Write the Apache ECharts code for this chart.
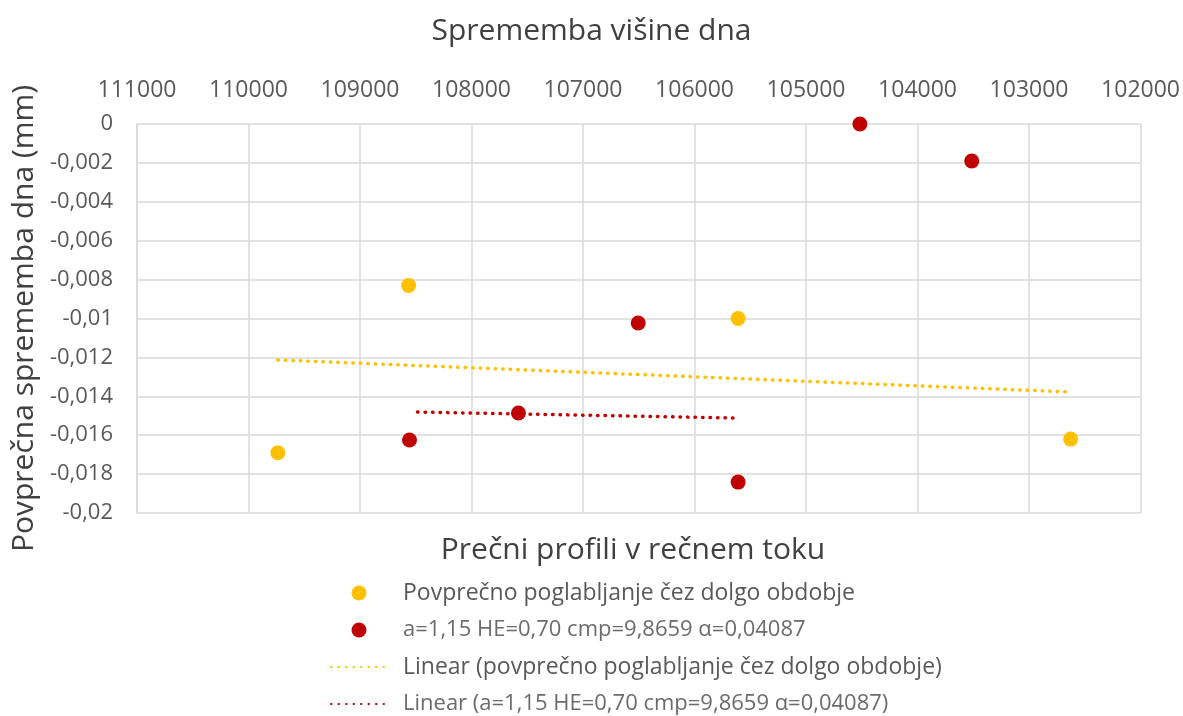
<!DOCTYPE html>
<html>
<head>
<meta charset="utf-8">
<script src="https://cdn.jsdelivr.net/npm/echarts@6/dist/echarts.min.js"></script>
<style>
  html, body { margin: 0; padding: 0; background: #ffffff; }
  #chart { width: 1183px; height: 716px; }
</style>
</head>
<body>
<div id="chart"></div>
<script>
// Cross-section stations (x) and mean bed change in mm (y)
const longTermX = [109737, 108564, 105609, 102627];
const longTermY = [-0.0169, -0.0083, -0.0100, -0.0162];

const modelX = [104517, 103514, 106505, 107579, 108556, 105609];
const modelY = [0.0000, -0.0019, -0.01023, -0.01486, -0.01625, -0.01841];

// Linear trend lines, start and end points
const longTermTrendX = [109737, 102627];
const longTermTrendY = [-0.01213, -0.01378];
const modelTrendX = [108484, 105600];
const modelTrendY = [-0.01481, -0.01512];

const seriesNames = [
  'Povprečno poglabljanje čez dolgo obdobje',
  'a=1,15 HE=0,70 cmp=9,8659 α=0,04087',
  'Linear (povprečno poglabljanje čez dolgo obdobje)',
  'Linear (a=1,15 HE=0,70 cmp=9,8659 α=0,04087)'
];

const YELLOW = '#FFC000';
const RED = '#C00000';
const FONT = '"Open Sans", sans-serif';
const DOTTED = [0.5, 7];

const pairs = (xs, ys) => xs.map((x, i) => [x, ys[i]]);

const chart = echarts.init(document.getElementById('chart'));
chart.setOption({
  backgroundColor: '#ffffff',
  animation: false,
  title: [
    {
      text: 'Sprememba višine dna',
      left: 'center',
      top: 11,
      textStyle: { fontFamily: FONT, fontSize: 30, fontWeight: 'normal', color: '#404040' }
    },
    {
      text: 'Prečni profili v rečnem toku',
      left: 628,
      textAlign: 'center',
      top: 530,
      textStyle: { fontFamily: FONT, fontSize: 30, fontWeight: 'normal', color: '#404040' }
    }
  ],
  grid: { left: 137, right: 41, top: 124, bottom: 203 },
  xAxis: {
    type: 'value',
    position: 'top',
    inverse: true,
    min: 102000,
    max: 111000,
    interval: 1000,
    axisLine: { show: false },
    axisTick: { show: false },
    axisLabel: {
      margin: 22,
      fontFamily: FONT,
      fontSize: 23,
      color: '#595959',
      formatter: v => String(v)
    },
    splitLine: { show: true, lineStyle: { color: '#d9d9d9', width: 1.5 } }
  },
  yAxis: {
    type: 'value',
    min: -0.02,
    max: 0,
    interval: 0.002,
    name: 'Povprečna sprememba dna (mm)',
    nameLocation: 'middle',
    nameGap: 98,
    nameRotate: 90,
    nameTextStyle: { fontFamily: FONT, fontSize: 30, color: '#404040' },
    axisLine: { show: true, lineStyle: { color: '#d9d9d9', width: 1.5 } },
    axisTick: { show: false },
    axisLabel: {
      margin: 24,
      fontFamily: FONT,
      fontSize: 22,
      color: '#595959',
      formatter: v => String(Number(v.toFixed(4))).replace('.', ',')
    },
    splitLine: { show: true, lineStyle: { color: '#d9d9d9', width: 1.5 } }
  },
  legend: {
    orient: 'vertical',
    left: 330,
    top: 581,
    padding: 0,
    height: 140,
    itemWidth: 56,
    itemHeight: 15,
    itemGap: 13,
    data: [
      { name: seriesNames[0], textStyle: { fontSize: 23, color: '#595959' } },
      { name: seriesNames[1], textStyle: { fontSize: 22, color: '#6b6b6b' } },
      { name: seriesNames[2], itemStyle: { opacity: 0 }, textStyle: { fontSize: 23, color: '#595959' } },
      { name: seriesNames[3], itemStyle: { opacity: 0 }, textStyle: { fontSize: 22, color: '#6b6b6b' } }
    ],
    textStyle: { fontFamily: FONT, fontSize: 22, color: '#595959', lineHeight: 24, padding: [0, 0, 0, 11] }
  },
  series: [
    {
      name: seriesNames[0],
      type: 'scatter',
      symbol: 'circle',
      symbolSize: 15,
      itemStyle: { color: YELLOW, opacity: 1 },
      data: pairs(longTermX, longTermY),
      z: 5
    },
    {
      name: seriesNames[1],
      type: 'scatter',
      symbol: 'circle',
      symbolSize: 15,
      itemStyle: { color: RED, opacity: 1 },
      data: pairs(modelX, modelY),
      z: 5
    },
    {
      name: seriesNames[2],
      type: 'line',
      symbol: 'none',
      lineStyle: { color: YELLOW, width: 3.5, type: DOTTED, cap: 'round' },
      itemStyle: { color: YELLOW },
      data: pairs(longTermTrendX, longTermTrendY),
      z: 3
    },
    {
      name: seriesNames[3],
      type: 'line',
      symbol: 'none',
      lineStyle: { color: RED, width: 3.5, type: DOTTED, cap: 'round' },
      itemStyle: { color: RED },
      data: pairs(modelTrendX, modelTrendY),
      z: 3
    }
  ]
});
</script>
</body>
</html>
